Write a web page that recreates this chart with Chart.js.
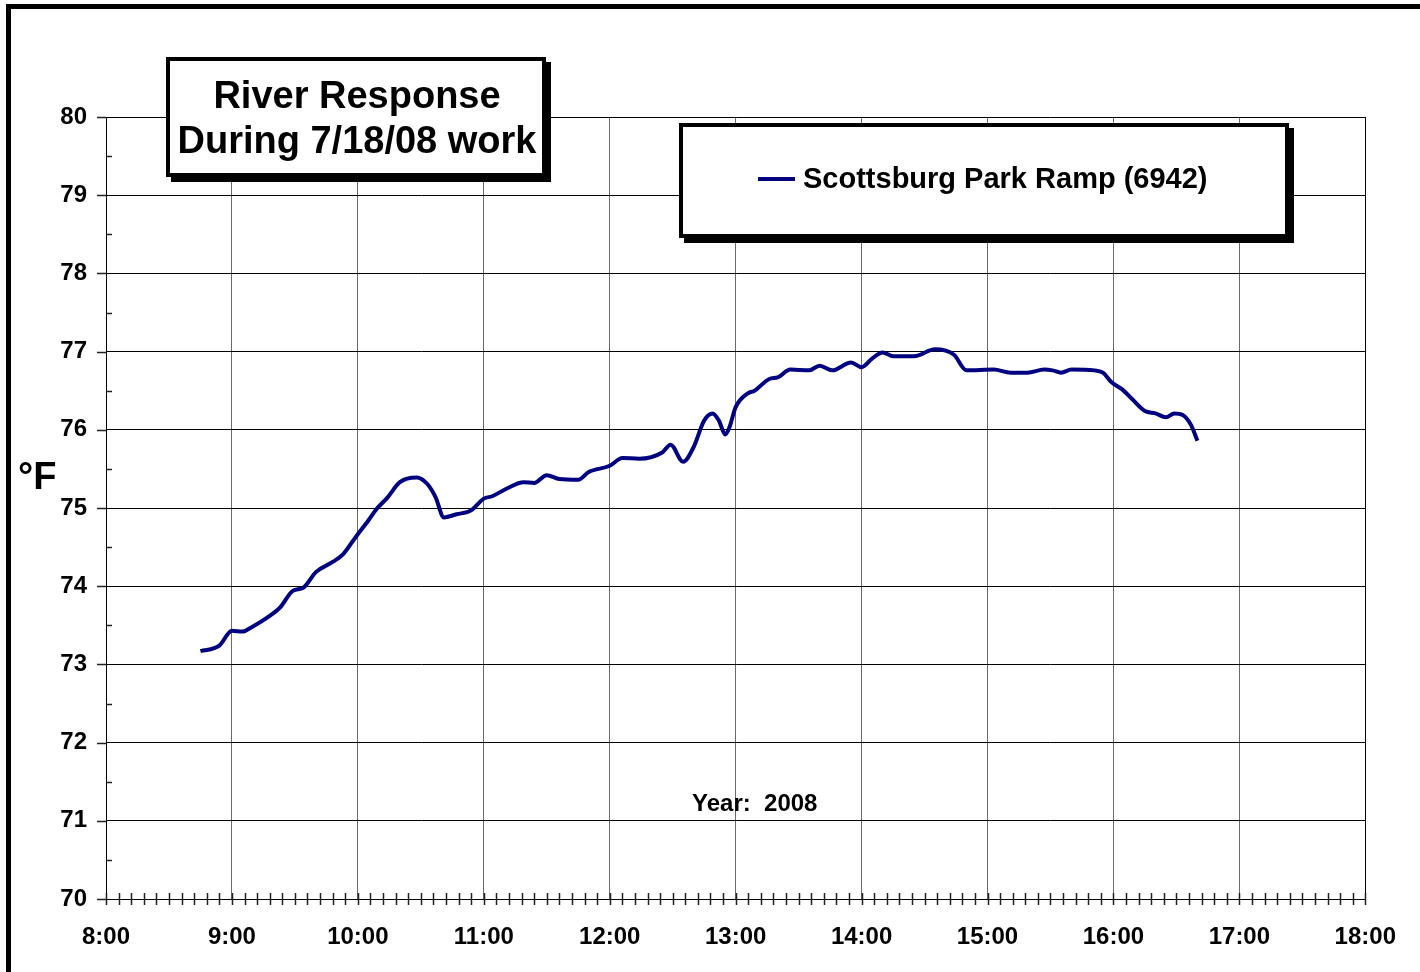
<!DOCTYPE html>
<html>
<head>
<meta charset="utf-8">
<title>River Response During 7/18/08 work</title>
<script src="https://cdn.jsdelivr.net/npm/chart.js@4.4.1/dist/chart.umd.min.js"></script>
<style>
  html, body { margin: 0; padding: 0; background: #fff; }
  canvas { display: block; }
</style>
</head>
<body>
<canvas id="riverChart" width="1420" height="972"></canvas>
<script>
// Logger readings, clock time and water temperature in °F
const times = [
  "8:45", "8:54", "9:00", "9:05", "9:09", "9:18", "9:23", "9:29", "9:34", "9:40",
  "9:48", "9:53", "9:59", "10:05", "10:09", "10:14", "10:20", "10:28", "10:33", "10:37",
  "10:41", "10:47", "10:54", "11:00", "11:04", "11:11", "11:19", "11:24", "11:30", "11:36",
  "11:45", "11:50", "12:00", "12:06", "12:14", "12:25", "12:29", "12:35", "12:40", "12:45",
  "12:49", "12:52", "12:55", "12:57", "13:00", "13:06", "13:09", "13:16", "13:20", "13:26",
  "13:35", "13:40", "13:46", "13:55", "14:00", "14:05", "14:10", "14:15", "14:25", "14:35",
  "14:44", "14:50", "15:03", "15:11", "15:19", "15:27", "15:31", "15:35", "15:40", "15:51",
  "15:55", "15:59", "16:04", "16:09", "16:15", "16:20", "16:25", "16:29", "16:33", "16:37",
  "16:40"
];
const tempsF = [
  73.17, 73.24, 73.43, 73.42, 73.47, 73.62, 73.73, 73.94, 73.98, 74.18,
  74.31, 74.41, 74.63, 74.84, 74.99, 75.13, 75.33, 75.39, 75.31, 75.14,
  74.88, 74.92, 74.97, 75.12, 75.15, 75.25, 75.33, 75.32, 75.42, 75.37,
  75.36, 75.46, 75.54, 75.64, 75.63, 75.71, 75.81, 75.59, 75.78, 76.12,
  76.21, 76.12, 75.94, 76.03, 76.29, 76.47, 76.50, 76.65, 76.67, 76.77,
  76.76, 76.82, 76.76, 76.86, 76.80, 76.91, 76.99, 76.94, 76.94, 77.03,
  76.96, 76.76, 76.77, 76.73, 76.73, 76.77, 76.76, 76.73, 76.77, 76.76,
  76.73, 76.61, 76.52, 76.39, 76.24, 76.21, 76.16, 76.21, 76.19, 76.06,
  75.86
];

const seriesName = "Scottsburg Park Ramp (6942)";
const titleLines = ["River Response", "During 7/18/08 work"];
const yearNote = "Year:  2008";
const unitLabel = "°F";
const hourRange = [8, 18];
const tempRange = [70, 80];

const FONT = '"Liberation Sans", Arial, Helvetica, sans-serif';

const toMinutes = (t) => {
  const [h, m] = t.split(":").map(Number);
  return h * 60 + m;
};

const points = times.map((t, i) => ({ x: toMinutes(t), y: tempsF[i] }));

function boxWithShadow(ctx, x0, y0, x1, y1) {
  ctx.fillStyle = "#000";
  ctx.fillRect(x0 + 5, y0 + 5, x1 - x0, y1 - y0);
  ctx.fillStyle = "#fff";
  ctx.fillRect(x0, y0, x1 - x0, y1 - y0);
  ctx.lineWidth = 4;
  ctx.strokeStyle = "#000";
  ctx.strokeRect(x0 + 2, y0 + 2, x1 - x0 - 4, y1 - y0 - 4);
}

const decorations = {
  id: "decorations",
  beforeDraw(chart) {
    const { ctx, width, height } = chart;
    ctx.save();
    ctx.fillStyle = "#fff";
    ctx.fillRect(0, 0, width, height);
    // page frame (top and left edges)
    ctx.fillStyle = "#000";
    ctx.fillRect(6, 4, width - 6, 5);
    ctx.fillRect(6, 4, 5, height - 4);
    ctx.restore();
  },
  afterDraw(chart) {
    const { ctx, chartArea, scales: { x, y } } = chart;
    ctx.save();

    // tick marks: every 6 minutes across the time axis, half degrees on the temp axis
    ctx.strokeStyle = "#222";
    ctx.lineWidth = 1.5;
    ctx.beginPath();
    for (let m = x.min; m <= x.max; m += 6) {
      const px = Math.round(x.getPixelForValue(m)) + 0.5;
      ctx.moveTo(px, chartArea.bottom - 6);
      ctx.lineTo(px, chartArea.bottom + 6);
    }
    for (let v = y.min; v <= y.max; v += 0.5) {
      const py = Math.round(y.getPixelForValue(v)) + 0.5;
      const whole = Number.isInteger(v);
      ctx.moveTo(chartArea.left + (whole ? -9 : 0), py);
      ctx.lineTo(chartArea.left + (whole ? 0 : 6), py);
    }
    ctx.stroke();

    // unit label
    ctx.fillStyle = "#000";
    ctx.font = `bold 38px ${FONT}`;
    ctx.textAlign = "left";
    ctx.textBaseline = "alphabetic";
    ctx.fillText(unitLabel, 18, 489);

    // year note
    ctx.font = `bold 24px ${FONT}`;
    ctx.fillText(yearNote, 692, 811);

    // title box
    boxWithShadow(ctx, 166, 57, 546, 177);
    ctx.fillStyle = "#000";
    ctx.font = `bold 38px ${FONT}`;
    ctx.textAlign = "center";
    ctx.fillText(titleLines[0], 357, 108);
    ctx.fillText(titleLines[1], 357, 153);

    // legend box
    const ds = chart.data.datasets[0];
    boxWithShadow(ctx, 679, 123, 1289, 238);
    ctx.strokeStyle = ds.borderColor;
    ctx.lineWidth = 4;
    ctx.beginPath();
    ctx.moveTo(758, 179);
    ctx.lineTo(795, 179);
    ctx.stroke();
    ctx.fillStyle = "#000";
    ctx.font = `bold 29px ${FONT}`;
    ctx.textAlign = "left";
    ctx.fillText(ds.label, 803, 188);

    ctx.restore();
  }
};

const tickFont = { family: FONT, size: 24, weight: "bold" };

new Chart(document.getElementById("riverChart"), {
  type: "line",
  data: {
    datasets: [
      {
        label: seriesName,
        data: points,
        borderColor: "#000080",
        borderWidth: 4,
        pointRadius: 0,
        cubicInterpolationMode: "monotone",
        fill: false
      }
    ]
  },
  options: {
    responsive: false,
    animation: false,
    layout: { padding: { top: 117, right: 53, left: 0, bottom: 0 } },
    plugins: {
      legend: { display: false },
      tooltip: { enabled: false }
    },
    scales: {
      x: {
        type: "linear",
        min: hourRange[0] * 60,
        max: hourRange[1] * 60,
        ticks: {
          stepSize: 60,
          autoSkip: false,
          maxRotation: 0,
          color: "#000",
          padding: 24,
          font: tickFont,
          callback: (v) => `${v / 60}:00`
        },
        grid: {
          drawTicks: false,
          lineWidth: 1,
          color: (c) => (c.tick && c.tick.value === hourRange[1] * 60 ? "#000" : "#6b6b6b")
        },
        border: { color: "#000", width: 1 },
        afterFit: (s) => { s.height = 73; }
      },
      y: {
        min: tempRange[0],
        max: tempRange[1],
        ticks: {
          stepSize: 1,
          color: "#000",
          padding: 19,
          font: tickFont
        },
        grid: { drawTicks: false, lineWidth: 1, color: "#000" },
        border: { color: "#000", width: 1 },
        afterFit: (s) => { s.width = 106; }
      }
    }
  },
  plugins: [decorations]
});
</script>
</body>
</html>
